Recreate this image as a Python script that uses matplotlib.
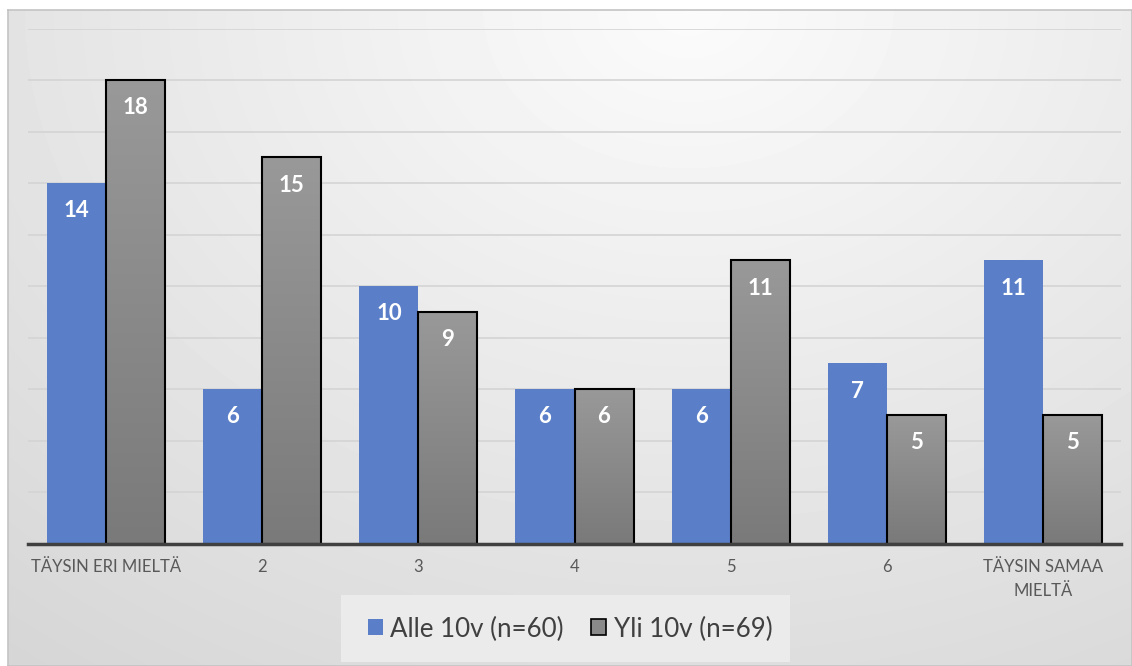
import numpy as np
import matplotlib.pyplot as plt
from matplotlib.colors import LinearSegmentedColormap
from matplotlib.patches import Patch, Rectangle

plt.rcParams['font.family'] = ['Lato', 'DejaVu Sans']

# Answers per scale point, two respondent groups
categories = ['TÄYSIN ERI MIELTÄ', '2', '3', '4', '5', '6', 'TÄYSIN SAMAA\nMIELTÄ']
alle_10v = [14, 6, 10, 6, 6, 7, 11]
yli_10v = [18, 15, 9, 6, 11, 5, 5]
series_names = ['Alle 10v (n=60)', 'Yli 10v (n=69)']

blue = '#5a7fc8'
W, H = 1132, 666

fig = plt.figure(figsize=(W / 100, H / 100), dpi=100)
fig.patch.set_facecolor('white')

# soft radial background behind the chart
bg = fig.add_axes([8 / W, 0, 1 - 8 / W, 1 - 10 / H], zorder=0)
yy, xx = np.mgrid[0:656, 0:1124]
d = np.sqrt((xx - 680) ** 2 + (yy * 1.3) ** 2)
shade = np.clip(0.985 - 0.15 * d / 1100, 0, 1)
bg.imshow(shade, cmap='gray', vmin=0, vmax=1, aspect='auto', interpolation='bilinear')
bg.set_xticks([])
bg.set_yticks([])
for s in bg.spines.values():
    s.set_color('#c4c4c4')
    s.set_linewidth(1.2)

ax = fig.add_axes([28 / W, (H - 543.5) / H, (1121 - 28) / W, (543.5 - 28.5) / H], zorder=1)
ax.set_facecolor('none')

x = np.arange(len(categories))
w = 0.378

ax.bar(x - w / 2, alle_10v, width=w, color=blue, zorder=2)

# gray bars with a light-to-dark vertical fill
gray_cmap = LinearSegmentedColormap.from_list('g', ['#7a7a7a', '#999999'])
grad = np.linspace(0, 1, 256).reshape(-1, 1)
for xi, v in zip(x, yli_10v):
    ax.imshow(grad, cmap=gray_cmap, origin='lower', aspect='auto',
              extent=[xi, xi + w, 0, v], zorder=2)
ax.bar(x + w / 2, yli_10v, width=w, facecolor='none', edgecolor='black',
       linewidth=1.5, zorder=3)

for xi, v in zip(x, alle_10v):
    ax.annotate(str(v), (xi - w / 2, v), xytext=(0, -20), textcoords='offset points',
                ha='center', va='center', color='white', fontsize=16, fontweight='bold', zorder=4)
for xi, v in zip(x, yli_10v):
    ax.annotate(str(v), (xi + w / 2, v), xytext=(0, -20), textcoords='offset points',
                ha='center', va='center', color='white', fontsize=16, fontweight='bold', zorder=4)

ax.set_xlim(-0.5, len(categories) - 0.5)
ax.set_ylim(0, 20)
ax.set_yticks(np.arange(2, 21, 2))
ax.yaxis.grid(True, color='#d4d4d4', linewidth=1.2, zorder=0)
ax.set_axisbelow(True)
ax.tick_params(axis='y', left=False, labelleft=False)
ax.tick_params(axis='x', length=0, pad=11, labelsize=12, labelcolor='#595959')
ax.set_xticks(x)
ax.set_xticklabels(categories, linespacing=1.65, va='top')
for side in ['top', 'right', 'left']:
    ax.spines[side].set_visible(False)
ax.spines['bottom'].set_color('#404040')
ax.spines['bottom'].set_linewidth(2.5)
ax.spines['bottom'].set_zorder(5)

# legend panel
fig.patches.append(Rectangle((341 / W, (H - 662) / H), 449 / W, 67 / H,
                             transform=fig.transFigure, facecolor='#ebebeb',
                             edgecolor='none', zorder=2))
handles = [Patch(facecolor=blue, edgecolor='none'),
           Patch(facecolor='#8a8a8a', edgecolor='black', linewidth=1.2)]
leg = fig.legend(handles, series_names, loc='center', bbox_to_anchor=(570 / W, (H - 629) / H),
                 ncol=2, fontsize=18.6, frameon=False, borderpad=0.3,
                 handlelength=0.58, handleheight=0.58, handletextpad=0.3, columnspacing=1.05,
                 labelcolor='#404040')
leg.set_zorder(6)

fig.savefig('out.png', dpi=100)
